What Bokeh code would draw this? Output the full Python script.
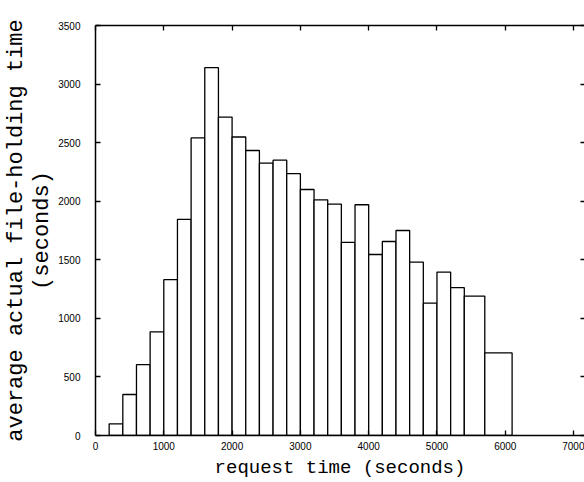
from bokeh.plotting import figure
from bokeh.models import Range1d, FixedTicker, LinearAxis, ColumnDataSource
from bokeh.embed import file_html
from bokeh.resources import INLINE

# request-time bins (seconds)
bin_left = [200, 400, 600, 800, 1000, 1200, 1400, 1600, 1800, 2000, 2200, 2400, 2600, 2800,
            3000, 3200, 3400, 3600, 3800, 4000, 4200, 4400, 4600, 4800, 5000, 5200, 5400, 5700]
bin_right = [400, 600, 800, 1000, 1200, 1400, 1600, 1800, 2000, 2200, 2400, 2600, 2800, 3000,
             3200, 3400, 3600, 3800, 4000, 4200, 4400, 4600, 4800, 5000, 5200, 5400, 5700, 6100]
# average actual file-holding time (seconds)
hold_time = [100, 350, 605, 885, 1330, 1845, 2540, 3140, 2718, 2548, 2433, 2325, 2350, 2235,
             2100, 2012, 1975, 1648, 1970, 1545, 1656, 1750, 1480, 1130, 1395, 1262, 1190, 705]

x_ticks = [0, 1000, 2000, 3000, 4000, 5000, 6000, 7000]
y_ticks = [0, 500, 1000, 1500, 2000, 2500, 3000, 3500]

x_label = "request time (seconds)"
y_label = "average actual file-holding time\n(seconds)"

src = ColumnDataSource(dict(left=bin_left, right=bin_right, top=hold_time,
                            bottom=[0] * len(hold_time)))

p = figure(width=584, height=482, output_backend="svg", toolbar_location=None,
           x_range=Range1d(0, 7160), y_range=Range1d(0, 3500),
           min_border_left=95, min_border_right=0, min_border_top=25, min_border_bottom=47,
           background_fill_color="white", border_fill_color="white")
p.outline_line_color = None
p.xgrid.visible = False
p.ygrid.visible = False

p.quad(left="left", right="right", top="top", bottom="bottom", source=src,
       fill_color="white", line_color="black", line_width=1.3)

tick_font = "Liberation Sans"

def style_axis(ax, labels=True, line=True):
    ax.major_tick_in = 5
    ax.major_tick_out = 0
    ax.minor_tick_line_color = None
    ax.major_tick_line_color = "black"
    ax.major_tick_line_width = 1.3
    ax.axis_line_color = "black" if line else None
    ax.axis_line_width = 1.5
    if labels:
        ax.major_label_text_font = tick_font
        ax.major_label_text_font_size = "10px"
        ax.major_label_text_color = "black"
    else:
        ax.major_label_overrides = {t: "" for t in ax.ticker.ticks}
        ax.major_label_text_font_size = "1px"
        ax.major_label_text_color = None
        ax.major_label_standoff = 0

# bottom axis
xa = p.xaxis[0]
xa.ticker = FixedTicker(ticks=x_ticks)
style_axis(xa)
xa.major_label_standoff = 6
xa.axis_label = x_label
xa.axis_label_text_font = "Liberation Mono"
xa.axis_label_text_font_size = "19px"
xa.axis_label_text_font_style = "normal"
xa.axis_label_text_color = "black"
xa.axis_label_standoff = 4

# left axis
ya = p.yaxis[0]
ya.ticker = FixedTicker(ticks=y_ticks)
style_axis(ya)
ya.major_label_standoff = 15
ya.axis_label = y_label
ya.axis_label_text_font = "Liberation Mono"
ya.axis_label_text_font_size = "22px"
ya.axis_label_text_font_style = "normal"
ya.axis_label_text_color = "black"
ya.axis_label_text_line_height = 1.05
ya.axis_label_standoff = 0

# top axis (ticks only)
top = LinearAxis(ticker=FixedTicker(ticks=x_ticks))
style_axis(top, labels=False)
p.add_layout(top, "above")

# right axis (ticks only, border cropped)
right = LinearAxis(ticker=FixedTicker(ticks=y_ticks))
style_axis(right, labels=False, line=False)
right.major_tick_in = 4
p.add_layout(right, "right")

open("out.html", "w").write(file_html(p, INLINE))
